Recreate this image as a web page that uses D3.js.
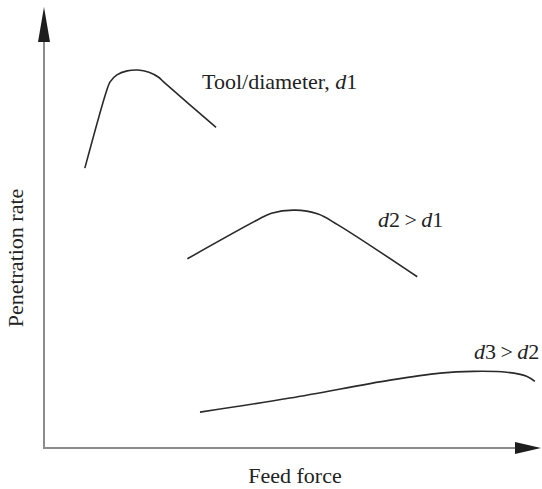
<!DOCTYPE html>
<html>
<head>
<meta charset="utf-8">
<script src="https://cdn.jsdelivr.net/npm/d3@7"></script>
<style>
  html, body { margin: 0; padding: 0; background: #fff; }
  svg { display: block; }
  text { font-family: "Liberation Serif", "DejaVu Serif", serif; fill: #222; }
</style>
</head>
<body>
<svg id="chart" width="542" height="489"></svg>
<script>
// Qualitative curves: penetration rate vs feed force for three tool diameters.
// Units are relative (0–100 on each axis).
const toolD1 = [
  [8.4, 63.9], [12.8, 81.3], [13.6, 83.6], [15.0, 85.2], [17.1, 86.1],
  [19.3, 86.3], [21.6, 85.8], [23.5, 84.7], [24.9, 83.3], [35.4, 73.2]
];
const toolD2 = [
  [29.5, 43.2], [43.8, 52.0], [46.8, 53.6], [51.6, 54.3], [56.4, 53.4],
  [60.4, 51.0], [76.8, 39.1]
];
const toolD3 = [
  [32.1, 8.2], [50.6, 11.4], [71.2, 15.5], [81.5, 17.1], [88.3, 17.5],
  [95.2, 17.3], [99.3, 16.4], [101.0, 15.2]
];
const curveLabels = ["Tool/diameter, ", "d2 > d1", "d3 > d2"];
const xTitle = "Feed force";
const yTitle = "Penetration rate";

const svg = d3.select("#chart");
const x0 = 44, y0 = 448;

const x = d3.scaleLinear().domain([0, 100]).range([x0, 530]);
const y = d3.scaleLinear().domain([0, 100]).range([y0, 10]);

// axes with arrowheads
const axisColor = "#8c8c8c";
svg.append("line").attr("x1", x0).attr("y1", y0).attr("x2", x0).attr("y2", 30)
  .attr("stroke", axisColor).attr("stroke-width", 2);
svg.append("line").attr("x1", x0 - 1).attr("y1", y0).attr("x2", 520).attr("y2", y0)
  .attr("stroke", axisColor).attr("stroke-width", 2);
svg.append("path").attr("d", `M${x0},7 L${x0 + 6},42 L${x0 - 6},42 Z`).attr("fill", "#1e1e1e");
svg.append("path").attr("d", `M541,${y0} L515,${y0 - 6} L515,${y0 + 6} Z`).attr("fill", "#1e1e1e");

// curves
const line = d3.line().x(d => x(d[0])).y(d => y(d[1])).curve(d3.curveCatmullRom.alpha(0.5));
[toolD1, toolD2, toolD3].forEach(s => {
  svg.append("path").attr("d", line(s)).attr("fill", "none")
    .attr("stroke", "#2a2a2a").attr("stroke-width", 1.6);
});

// curve labels with italic d, thin spaces around ">"
const fs = 22;
function label(xp, yp, parts) {
  const t = svg.append("text").attr("x", xp).attr("y", yp).attr("font-size", fs);
  parts.forEach(p => {
    t.append("tspan").attr("font-style", p.i ? "italic" : "normal").text(p.t);
  });
}
label(202, 89, [{t: curveLabels[0]}, {t: "d", i: true}, {t: "1"}]);
label(378, 227, [{t: "d", i: true}, {t: "2\u2009>\u2009"}, {t: "d", i: true}, {t: "1"}]);
label(474, 359, [{t: "d", i: true}, {t: "3\u2009>\u2009"}, {t: "d", i: true}, {t: "2"}]);

// axis titles
svg.append("text").attr("x", 295).attr("y", 483).attr("text-anchor", "middle")
  .attr("font-size", fs).text(xTitle);
svg.append("text").attr("transform", `translate(23,258) rotate(-90)`)
  .attr("text-anchor", "middle").attr("font-size", fs).text(yTitle);
</script>
</body>
</html>
